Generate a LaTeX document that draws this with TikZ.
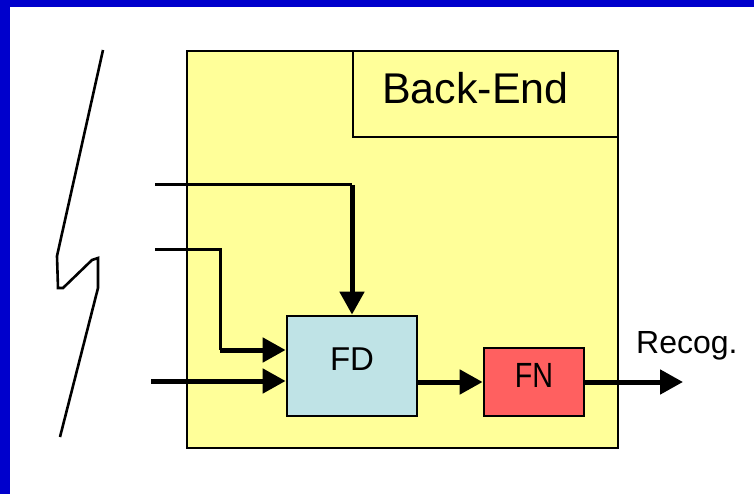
\documentclass[tikz,border=0pt]{standalone}
\usepackage{fontspec}
\setmainfont{Liberation Sans}
\usetikzlibrary{arrows.meta,positioning}

\definecolor{frameblue}{HTML}{0000CC}
\definecolor{beyellow}{HTML}{FFFF99}
\definecolor{fdblue}{HTML}{BFE3E6}
\definecolor{fnred}{HTML}{FF6060}

\begin{document}
\begin{tikzpicture}[x=1pt, y=-1pt,
  box/.style={draw, line width=2.8pt, inner sep=0pt, align=center},
  arr/.style={-{Triangle[length=23pt,width=24pt]}, line width=5pt},
  wire/.style={line width=3pt}
]
\useasboundingbox (0,0) rectangle (754,494);
% blue frame
\fill[frameblue] (0,0) rectangle (754,7);
\fill[frameblue] (0,0) rectangle (10,494);

% back-end block
\node[box, fill=beyellow, minimum width=431pt, minimum height=397pt] (backend) at (402.5,249.5) {};
\node[box, fill=beyellow, minimum width=265pt, minimum height=86pt, anchor=north east,
      text depth=12pt, font=\fontsize{43}{50}\selectfont] (betitle) at (backend.north east) {Back-End\hspace{20pt}};

% inner blocks
\node[box, fill=fdblue, minimum width=130pt, minimum height=100pt, text depth=14pt,
      font=\fontsize{33}{40}\selectfont] (fd) at (352,366) {FD};
\node[box, fill=fnred, minimum width=100pt, minimum height=68pt, text depth=13pt,
      font=\fontsize{35}{42}\selectfont] (fn) at (534,382) {\scalebox{0.82}[1]{FN}};
\node[anchor=base west, inner sep=0pt, font=\fontsize{32}{38}\selectfont] (recog) at (636,353) {Recog.};

% inputs and output
\coordinate (in1) at (151,381);
\coordinate (in2) at (155,249);
\coordinate (in3) at (155,185);
\coordinate (c2) at (220,350);
\coordinate (c3) at (352,185);
\coordinate (out) at (683,382);

\draw[arr] (in1) -- (in1 -| fd.west);
\draw[wire] (in2) -| (c2);
\draw[arr] (c2) -- (c2 -| fd.west);
\draw[wire] (in3) -- (c3);
\draw[arr] (c3) -- (fd.north);
\draw[arr] (fn.west -| fd.east) -- (fn.west);
\draw[arr] (fn.east) -- (out);

% break mark
\draw[line width=2.6pt] (103,50) -- (57,256) -- (58,288) -- (63,288) -- (92,260)
  -- (98,258) -- (98,288) -- (60,437);
\end{tikzpicture}
\end{document}
